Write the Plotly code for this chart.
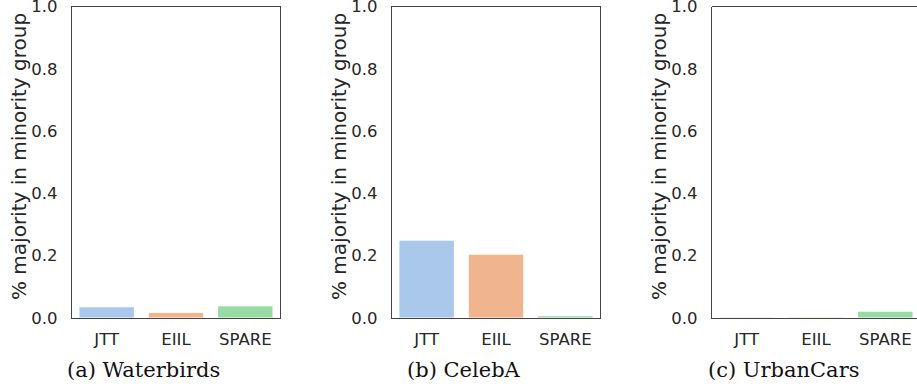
import plotly.graph_objects as go

methods = ["JTT", "EIIL", "SPARE"]
waterbirds = [0.036, 0.018, 0.039]
celeba = [0.250, 0.205, 0.0075]
urbancars = [0.003, 0.003, 0.022]
captions = ["(a) Waterbirds", "(b) CelebA", "(c) UrbanCars"]
y_title = "% majority in minority group"
y_ticks = [0.0, 0.2, 0.4, 0.6, 0.8, 1.0]
bar_colors = ["#aac8eb", "#f0b48e", "#97dba5"]
series = [waterbirds, celeba, urbancars]

W, H = 917, 391
left_px = [72, 392, 712]
caption_cx = [143.5, 463.5, 783.5]
panel_w = 208
y_bottom_px, y_top_px = 318, 6.5
frame = "#444444"
txt = "#262626"

fig = go.Figure()
for i, vals in enumerate(series):
    n = "" if i == 0 else str(i + 1)
    x0 = left_px[i] / W
    x1 = min((left_px[i] + panel_w) / W, 1.0)
    visible_w = x1 * W - left_px[i]
    xr_max = -0.5 + 3.0 * visible_w / panel_w
    clipped = x1 >= 1.0
    fig.add_trace(go.Bar(
        x=methods, y=vals, xaxis="x" + n, yaxis="y" + n,
        marker=dict(color=bar_colors, line=dict(color="white", width=1)),
        width=0.8, showlegend=False,
    ))
    fig.layout["xaxis" + n] = dict(
        domain=[x0, x1], anchor="y" + n, range=[-0.5, xr_max],
        showline=True, linecolor=frame, linewidth=1.3,
        mirror=not clipped, automargin=False,
        showgrid=False, zeroline=False, ticks="",
        tickfont=dict(family="DejaVu Sans", size=16.5, color=txt),
        ticklabelstandoff=6, ticklabeloverflow="allow",
    )
    fig.layout["yaxis" + n] = dict(
        domain=[(H - y_bottom_px) / H, (H - y_top_px) / H], anchor="x" + n,
        range=[0, 1], tickvals=y_ticks, ticktext=[f"{t:.1f}" for t in y_ticks],
        showline=True, linecolor=frame, linewidth=1.3,
        mirror=not clipped, automargin=False,
        showgrid=False, zeroline=False, ticks="",
        tickfont=dict(family="DejaVu Sans", size=16.5, color=txt),
        ticklabelstandoff=10, ticklabeloverflow="allow",
    )
    if clipped:
        fig.add_shape(type="line", xref="x" + n + " domain", yref="y" + n + " domain",
                      x0=0, x1=1, y0=1, y1=1, line=dict(color=frame, width=1.1))
    fig.add_annotation(
        text=y_title, xref="paper", yref="paper", textangle=-90,
        x=(left_px[i] - 53) / W, y=(H - 157) / H,
        showarrow=False, xanchor="center", yanchor="middle",
        font=dict(family="DejaVu Sans", size=20, color=txt),
    )
    fig.add_annotation(
        text=captions[i], xref="paper", yref="paper",
        x=caption_cx[i] / W, y=(H - 370) / H,
        showarrow=False, xanchor="center", yanchor="middle",
        font=dict(family="DejaVu Serif", size=21, color="#111111"),
    )

fig.update_layout(
    width=W, height=H, margin=dict(l=0, r=0, t=0, b=0),
    paper_bgcolor="white", plot_bgcolor="white", bargap=0.2,
)
fig.write_html("out.html", config={"displayModeBar": False},
               post_script="document.body.style.margin='0';document.body.style.overflow='hidden';")
